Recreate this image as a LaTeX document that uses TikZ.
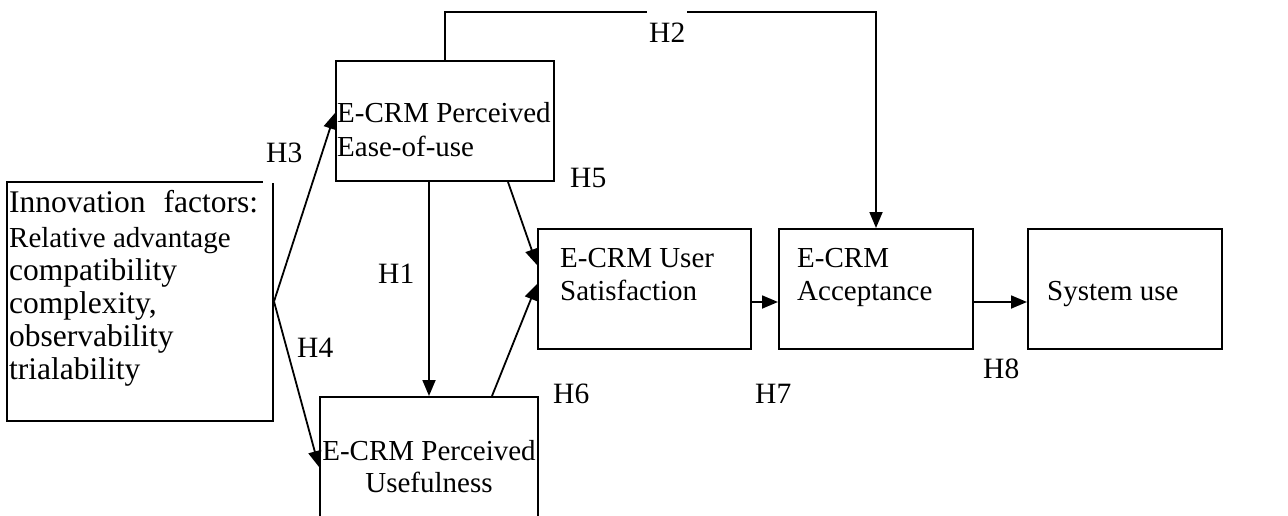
\documentclass[tikz,border=0pt]{standalone}
\usepackage{fontspec}
\setmainfont{Liberation Serif}
\usetikzlibrary{arrows.meta,calc}
\tikzset{
  box/.style={draw, line width=2pt, rectangle, inner sep=0pt},
  txt/.style={anchor=base west, inner sep=0pt, font=\fontsize{29}{34}\selectfont},
  bigtxt/.style={anchor=base west, inner sep=0pt, font=\fontsize{31.5}{36}\selectfont},
  lab/.style={anchor=base west, inner sep=0pt, font=\fontsize{29.5}{34}\selectfont},
  arr/.style={-{Triangle[length=16pt,width=13pt]}, line width=1.8pt},
}
\begin{document}
\begin{tikzpicture}[x=1pt,y=-1pt]
\clip (0,0) rectangle (1288,516);
\fill[white] (0,0) rectangle (1288,516);
% boxes
\node[box, minimum width=266pt, minimum height=239pt] (inno) at (140,301.5) {};
\node[box, minimum width=218pt, minimum height=120pt] (peou) at (445,121) {};
\node[box, minimum width=218pt, minimum height=140pt] (pu) at (429,467) {};
\node[box, minimum width=213pt, minimum height=120pt] (us) at (644.5,289) {};
\node[box, minimum width=194pt, minimum height=120pt] (acc) at (876,289) {};
\node[box, minimum width=194pt, minimum height=120pt] (sys) at (1125,289) {};
% texts
\node[bigtxt] (inno1) at (9,212) {\hbox to 249pt{Innovation\hfill factors:}};
\node[txt] (inno2) at (9,247) {Relative advantage};
\node[bigtxt] (inno3) at (9,280) {compatibility};
\node[bigtxt] (inno4) at (9,313) {complexity,};
\node[bigtxt] (inno5) at (9,346) {observability};
\node[bigtxt] (inno6) at (9,379) {trialability};
\node[txt] (peou1) at (337,123) {E-CRM Perceived};
\node[txt] (peou2) at (337,157) {Ease-of-use};
\node[txt, anchor=base] (pu1) at (429,460) {E-CRM Perceived};
\node[txt, anchor=base] (pu2) at (429,492) {Usefulness};
\node[txt] (us1) at (560,267) {E-CRM User};
\node[txt] (us2) at (560,300) {Satisfaction};
\node[txt] (acc1) at (797,267) {E-CRM};
\node[txt] (acc2) at (797,300) {Acceptance};
\node[txt] (sys1) at (1047,300) {System use};
% connectors
\draw[arr] (inno.east) -- ([yshift=8pt]peou.west);
\draw[arr] (inno.east) -- (pu.west);
\draw[arr] (peou.south -| pu.north) -- (pu.north);
\draw[arr] ([xshift=63pt]peou.south) -- ([yshift=24pt]us.west);
\draw[arr] ([xshift=63pt]pu.north) -- ([yshift=5pt]us.west);
\draw[arr] ([yshift=-13pt]us.east) -- ([yshift=-13pt]acc.west);
\draw[arr] ([yshift=-13pt]acc.east) -- ([yshift=-13pt]sys.west);
\draw[arr] (peou.north) -- ++(0,-48) -| (acc.north);
% labels
\node[lab] (h1) at (378,283) {H1};
\node[lab, fill=white, inner xsep=2pt, inner ysep=12pt] (h2) at (647,43) {H2};
\node[lab, fill=white, inner xsep=3pt, inner ysep=20pt] (h3) at (263,163) {H3};
\node[lab] (h4) at (297,357) {H4};
\node[lab] (h5) at (570,187) {H5};
\node[lab] (h6) at (553,403) {H6};
\node[lab] (h7) at (755,403) {H7};
\node[lab] (h8) at (983,378) {H8};
\end{tikzpicture}
\end{document}
